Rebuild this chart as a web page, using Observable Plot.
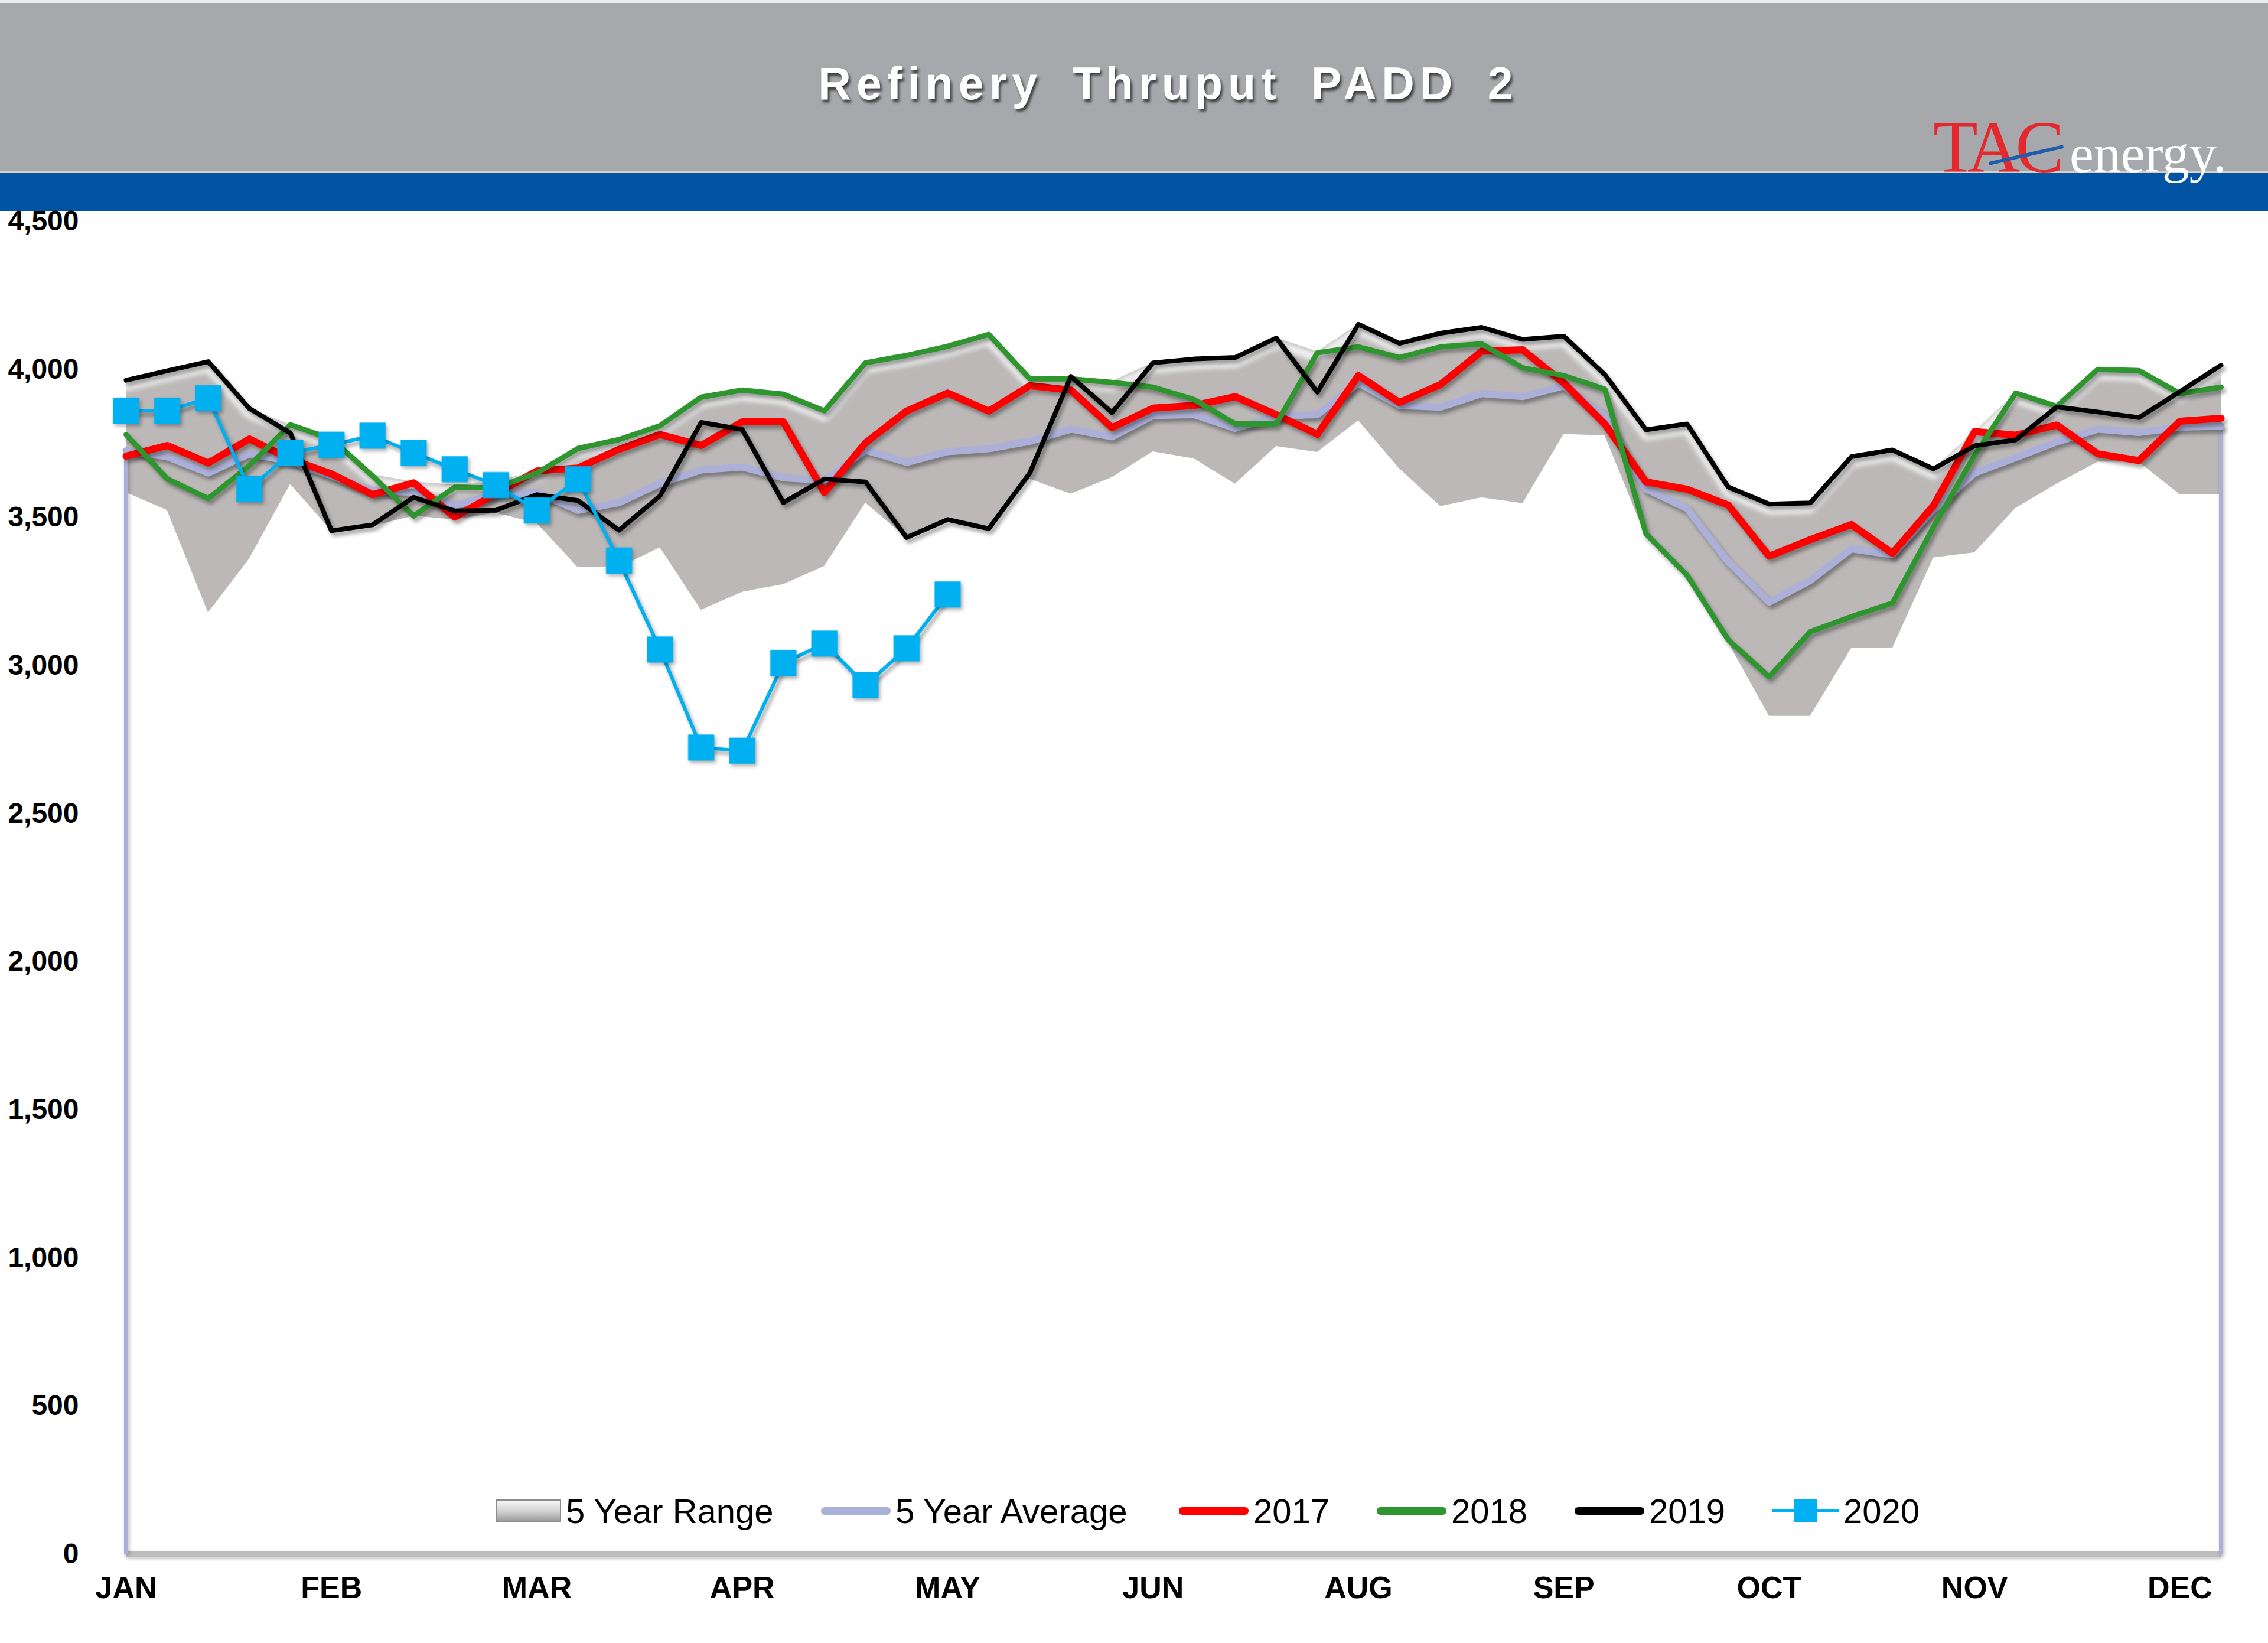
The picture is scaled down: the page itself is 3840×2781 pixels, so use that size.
<!DOCTYPE html>
<html>
<head>
<meta charset="utf-8">
<script src="https://cdn.jsdelivr.net/npm/d3@7"></script>
<script src="https://cdn.jsdelivr.net/npm/@observablehq/plot@0.6"></script>
<style>
  html, body { margin: 0; padding: 0; background: #fff; }
  #page { position: relative; width: 3840px; height: 2781px; overflow: hidden; background: #fff;
          font-family: "Liberation Sans", Arial, sans-serif; }
  #topstrip { position: absolute; left: 0; top: 0; width: 3840px; height: 5px; background: #ececee; }
  #header { position: absolute; left: 0; top: 5px; width: 3840px; height: 285px; background: #a7a8ac; }
  #band { position: absolute; left: 0; top: 290px; width: 3840px; height: 67px; background: #0054a3;
          border-top: 2px solid #d6d0c8; box-sizing: border-box; }
  #title { position: absolute; top: 103px; left: 1978px; transform: translateX(-50%); white-space: nowrap;
           color: #fff; font-weight: bold; font-size: 77px; line-height: 77px; letter-spacing: 9px;
           word-spacing: 20px; text-shadow: 3px 5px 4px rgba(30,30,30,0.75); }
  #tac { position: absolute; left: 3273px; top: 188px; font-family: "Liberation Serif", "Times New Roman", serif;
         font-size: 124px; line-height: 124px; color: #e3292e; letter-spacing: -8px; white-space: nowrap; }
  #energy { position: absolute; left: 3504px; top: 214px; font-family: "Liberation Serif", "Times New Roman", serif;
            font-size: 92px; line-height: 92px; color: #fff; white-space: nowrap; }
  #slash { position: absolute; left: 3367px; top: 274px; width: 130px; height: 6px; background: #1f5cab;
           transform-origin: 0 50%; transform: rotate(-12.9deg); border-radius: 3px; }
  #chart { position: absolute; left: 0; top: 357px; }
  #chart svg g[aria-label^="y-axis"] text { font-size: 48px; font-weight: bold; }
  #chart svg g[aria-label^="x-axis"] text { font-size: 52px; font-weight: bold; }
  .item { position: absolute; top: 2529px; height: 56px; display: flex; align-items: center;
          font-size: 58px; color: #000; white-space: nowrap; }
  .sw { display: inline-block; margin-right: 8px; }
  .sw.range { width: 110px; height: 38px; box-sizing: border-box; border: 2px solid #8c8c8c;
              background: linear-gradient(to bottom, #f6f6f6 0%, #cfcfcf 55%, #9d9d9d 100%); }
  .sw.ln { width: 118px; height: 13px; border-radius: 6px; }
  .sw.m20 { position: relative; width: 112px; height: 6px; background: #00b0f0; }
  .sw.m20::after { content: ""; position: absolute; left: 37px; top: -16px; width: 38px; height: 38px; background: #00b0f0; }
</style>
</head>
<body>
<div id="page">
  <div id="topstrip"></div>
  <div id="header"></div>
  <div id="band"></div>
  <div id="title">Refinery Thruput PADD 2</div>
  <div id="tac">TAC</div>
  <div id="energy">energy.</div>
  <div id="slash"></div>
  <div id="chart"></div>
  <div class="item" style="left:840px"><span class="sw range"></span><span>5 Year Range</span></div>
  <div class="item" style="left:1390px"><span class="sw ln" style="background:#acb0d8"></span><span>5 Year Average</span></div>
  <div class="item" style="left:1996px"><span class="sw ln" style="background:#ff0000"></span><span>2017</span></div>
  <div class="item" style="left:2331px"><span class="sw ln" style="background:#2f962f"></span><span>2018</span></div>
  <div class="item" style="left:2666px"><span class="sw ln" style="background:#000000"></span><span>2019</span></div>
  <div class="item" style="left:3001px"><span class="sw m20"></span><span>2020</span></div>
</div>
<script>
// ---- Data (weekly, week 0 = first week of January) ----
const monthLabels = ["JAN", "FEB", "MAR", "APR", "MAY", "JUN", "AUG", "SEP", "OCT", "NOV", "DEC"];
const monthTickWeeks = [0, 5, 10, 15, 20, 25, 30, 35, 40, 45, 50];
const yTickValues = [0, 500, 1000, 1500, 2000, 2500, 3000, 3500, 4000, 4500];

const rangeMin = [3584,3524,3178,3360,3612,3455,3470,3505,3492,3515,3480,3331,3331,3398,3187,3248,3274,3335,3549,3432,3493,3462,3630,3579,3635,3722,3698,3613,3740,3720,3827,3664,3537,3567,3547,3781,3776,3435,3303,3079,2829,2829,3058,3058,3364,3381,3531,3613,3687,3687,3577,3577];
const rangeMax = [3963,3995,4026,3868,3813,3765,3645,3620,3610,3620,3657,3733,3763,3810,3906,3930,3916,3860,4022,4047,4078,4118,3968,3976,3960,4022,4035,4040,4106,4060,4152,4088,4122,4142,4101,4112,3982,3796,3816,3603,3545,3549,3705,3728,3664,3790,3920,3875,4000,3996,3925,4014];
const avg5 = [3725,3705,3650,3715,3690,3640,3590,3585,3540,3578,3584,3524,3550,3615,3660,3670,3634,3625,3727,3686,3722,3732,3757,3798,3772,3844,3847,3801,3842,3847,3954,3878,3872,3918,3908,3944,3842,3596,3530,3350,3214,3287,3394,3374,3525,3650,3702,3755,3798,3787,3805,3808];
const y2017 = [3707,3743,3684,3765,3697,3647,3577,3617,3501,3580,3657,3667,3730,3780,3743,3823,3823,3584,3752,3859,3920,3859,3945,3930,3803,3869,3878,3908,3847,3781,3979,3888,3949,4061,4066,3954,3815,3620,3595,3542,3369,3425,3476,3379,3540,3790,3778,3812,3715,3692,3825,3835];
const y2018 = [3780,3630,3564,3675,3813,3765,3640,3505,3602,3600,3650,3733,3763,3810,3906,3930,3916,3860,4022,4047,4078,4118,3968,3968,3956,3940,3898,3816,3816,4056,4076,4040,4076,4086,4005,3979,3933,3445,3305,3087,2962,3114,3165,3211,3468,3710,3920,3875,4000,3996,3918,3940];
const y2019 = [3963,3995,4026,3868,3785,3455,3475,3568,3522,3524,3577,3557,3457,3573,3821,3797,3550,3630,3620,3432,3493,3462,3650,3976,3854,4022,4035,4040,4106,3923,4152,4088,4122,4142,4101,4112,3982,3796,3816,3603,3545,3549,3705,3728,3664,3742,3762,3873,3856,3837,3925,4014];
const y2020 = [3860,3860,3903,3596,3718,3745,3776,3718,3663,3609,3524,3629,3354,3054,2723,2712,3008,3074,2934,3058,3240];

const weeks = d3.range(rangeMin.length);
const rows = weeks.map(i => ({week: i, min: rangeMin[i], max: rangeMax[i], avg: avg5[i],
                              y17: y2017[i], y18: y2018[i], y19: y2019[i]}));
const rows20 = y2020.map((v, i) => ({week: i, v}));
const edgeWeeks = [weeks[0], weeks[weeks.length - 1]];

const chart = Plot.plot({
  width: 3840,
  height: 2424,
  marginLeft: 213,
  marginRight: 80,
  marginTop: 17,
  marginBottom: 151,
  style: {fontFamily: '"Liberation Sans", Arial, sans-serif', fontWeight: "bold", fontSize: "50px",
          color: "#000", background: "transparent", overflow: "visible"},
  x: {domain: [0, 51], ticks: monthTickWeeks, tickFormat: d => monthLabels[monthTickWeeks.indexOf(d)],
      tickSize: 0, tickPadding: 38, label: null},
  y: {domain: [0, 4500], ticks: yTickValues, tickFormat: d3.format(","), tickSize: 0, tickPadding: 80, label: null},
  marks: [
    Plot.areaY(rows, {x: "week", y1: "min", y2: "max", fill: "#bcb8b8"}),
    Plot.line(rows, {x: "week", y: "max", stroke: "#ffffff", strokeWidth: 14, strokeOpacity: 0.85, dy: 10}),
    Plot.ruleY([0], {stroke: "#bdbdbd", strokeWidth: 9}),
    Plot.ruleX(edgeWeeks, {x: d => d, y1: 0, y2: d => avg5[d], stroke: "#acb0d8", strokeWidth: 7}),
    Plot.line(rows, {x: "week", y: "avg", stroke: "#acb0d8", strokeWidth: 12}),
    Plot.line(rows, {x: "week", y: "y17", stroke: "#ff0000", strokeWidth: 12}),
    Plot.line(rows, {x: "week", y: "y18", stroke: "#2f962f", strokeWidth: 9}),
    Plot.line(rows, {x: "week", y: "y19", stroke: "#000000", strokeWidth: 8}),
    Plot.line(rows20, {x: "week", y: "v", stroke: "#00b0f0", strokeWidth: 6}),
    Plot.dot(rows20, {x: "week", y: "v", symbol: "square", r: 25, fill: "#00b0f0"})
  ]
});
document.getElementById("chart").append(chart);

const lineGroups = chart.querySelectorAll('g[aria-label="line"]');
lineGroups.forEach((g, i) => {
  g.style.filter = i === 0 ? "blur(5px)" : "drop-shadow(4px 6px 3px rgba(0,0,0,0.35))";
});
const dotGroups = chart.querySelectorAll('g[aria-label="dot"]');
dotGroups.forEach(g => { g.style.filter = "drop-shadow(3px 4px 3px rgba(0,0,0,0.3))"; });
const ruleGroups = chart.querySelectorAll('g[aria-label="rule"]');
ruleGroups.forEach(g => { g.style.filter = "drop-shadow(2px 3px 3px rgba(0,0,0,0.25))"; });
</script>
</body>
</html>
